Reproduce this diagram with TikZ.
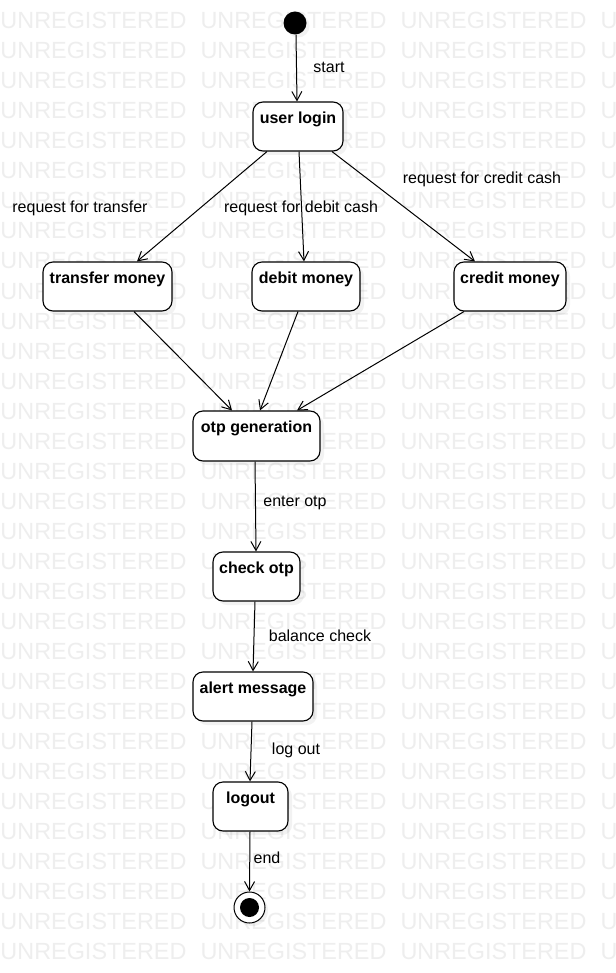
\documentclass[tikz,border=0pt]{standalone}
\usepackage{fontspec}
\setmainfont{Liberation Sans}
\usetikzlibrary{arrows.meta,shadows}
\definecolor{wm}{RGB}{238,238,238}
\begin{document}
\begin{tikzpicture}[x=1pt,y=-1pt,
  stbox/.style={draw, line width=1.1pt, rounded corners=10pt, fill=white, inner sep=0pt,
    text height=21.5pt, text depth=27.5pt, font=\bfseries\fontsize{16}{19}\selectfont,
    drop shadow={opacity=0.1, shadow xshift=4pt, shadow yshift=-4pt}},
  flow/.style={draw, line width=1pt, -{Straight Barb[length=9pt,width=10pt,line width=1pt]}},
  lbl/.style={font=\fontsize{16}{19}\selectfont, inner sep=0pt},
  wmk/.style={anchor=base west, inner sep=0pt, text=wm, font=\fontsize{23.4}{26}\selectfont}]
\useasboundingbox (0,0) rectangle (615,973);
\fill[white] (0,0) rectangle (615,973);
% watermark
\foreach \k in {0,...,31}{
  \foreach \c in {0,1,2,3}{
    \node[wmk] at ({0.3+200*\c},{29+30*\k}) {UNREGISTERED};
  }
}
% start
\node[circle, fill=black, minimum size=23pt, inner sep=0pt,
  drop shadow={opacity=0.1, shadow xshift=3pt, shadow yshift=-3pt}] (start) at (295,23) {};
% states
\node[stbox, minimum width=90pt] (login) at (298,126.5) {user login};
\node[stbox, minimum width=129pt] (transfer) at (107.5,286.5) {transfer money};
\node[stbox, minimum width=108pt] (debit) at (306,286.5) {debit money};
\node[stbox, minimum width=112pt] (credit) at (510,286.5) {credit money};
\node[stbox, minimum width=127pt, text depth=28.5pt] (otp) at (256.5,436) {otp generation};
\node[stbox, minimum width=87pt] (check) at (256.5,576.5) {check otp};
\node[stbox, minimum width=120pt] (alert) at (253,696.5) {alert message};
\node[stbox, minimum width=75pt] (logout) at (250.5,806.5) {logout};
% end
\node[circle, draw, line width=1pt, fill=white, minimum size=31pt, inner sep=0pt,
  drop shadow={opacity=0.1, shadow xshift=3pt, shadow yshift=-3pt}] (endc) at (249.5,907.5) {};
\node[circle, fill=black, minimum size=19pt, inner sep=0pt] (endi) at (endc.center) {};
% connectors
\draw[flow] ([xshift=1pt]start.south) -- ([xshift=-1pt]login.north);
\draw[flow] ([xshift=-31pt]login.south) -- ([xshift=29.5pt]transfer.north);
\draw[flow] ([xshift=1pt]login.south) -- ([xshift=-2pt]debit.north);
\draw[flow] ([xshift=34pt]login.south) -- ([xshift=-35pt]credit.north);
\draw[flow] ([xshift=26.5pt]transfer.south) -- ([xshift=-24.5pt]otp.north);
\draw[flow] ([xshift=-8pt]debit.south) -- ([xshift=3.5pt]otp.north);
\draw[flow] ([xshift=-46pt]credit.south) -- ([xshift=40.5pt]otp.north);
\draw[flow] ([xshift=-1.5pt]otp.south) -- ([xshift=-0.5pt]check.north);
\draw[flow] ([xshift=-1.5pt]check.south) -- (alert.north);
\draw[flow] ([xshift=-1pt]alert.south) -- ([xshift=-0.5pt]logout.north);
\draw[flow] ([xshift=-0.5pt]logout.south) -- (endc.north);
% labels
\node[lbl] (lstart) at (329,67) {start};
\node[lbl] (ltr) at (80,208) {request for transfer};
\node[lbl] (ldeb) at (301,208) {request for debit cash};
\node[lbl] (lcre) at (482,179) {request for credit cash};
\node[lbl] (lotp) at (295,503) {enter otp};
\node[lbl] (lbal) at (320,636) {balance check};
\node[lbl] (llog) at (296,750) {log out};
\node[lbl] (lend) at (267,858) {end};
\end{tikzpicture}
\end{document}
